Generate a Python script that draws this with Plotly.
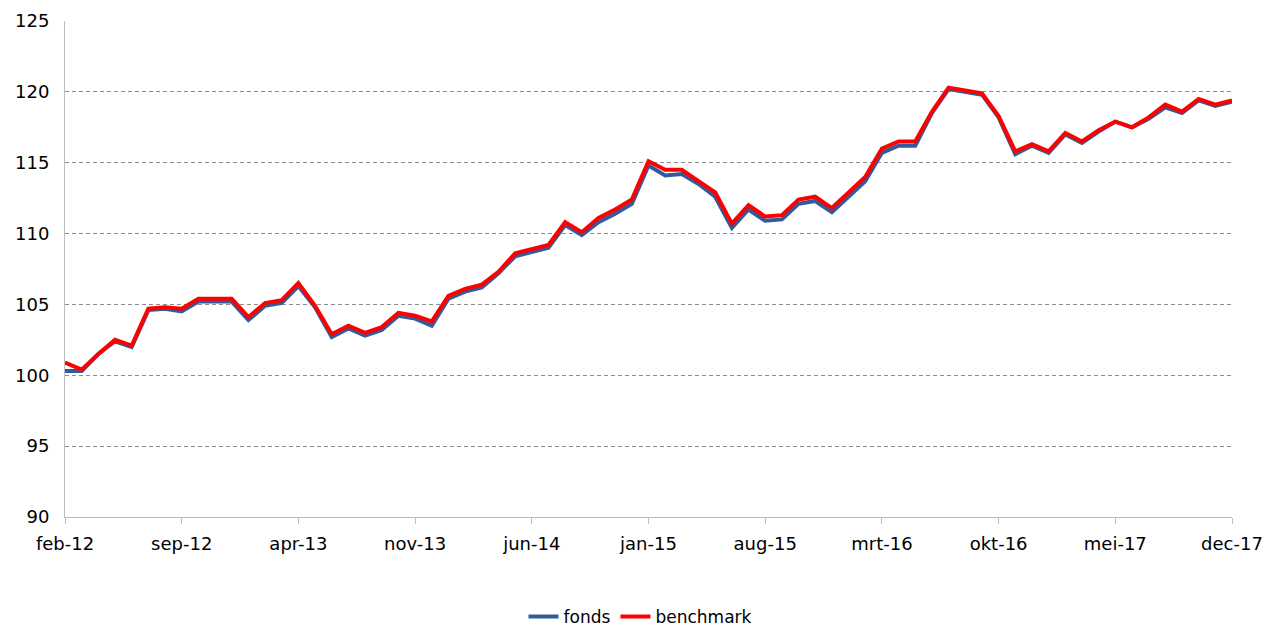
import plotly.graph_objects as go

month_abbr = ["jan", "feb", "mrt", "apr", "mei", "jun", "jul", "aug", "sep", "okt", "nov", "dec"]
months = []
for yr in range(2012, 2018):
    for m in range(12):
        if yr == 2012 and m == 0:
            continue
        months.append(f"{month_abbr[m]}-{str(yr)[2:]}")

fonds = [100.3, 100.3, 101.5, 102.4, 102.0, 104.6, 104.7, 104.5, 105.2, 105.2,
         105.2, 103.9, 104.9, 105.1, 106.3, 104.8, 102.7, 103.3, 102.8, 103.2,
         104.2, 104.0, 103.5, 105.4, 105.9, 106.2, 107.2, 108.4, 108.7, 109.0,
         110.6, 109.9, 110.8, 111.4, 112.1, 114.8, 114.1, 114.2, 113.5, 112.6,
         110.4, 111.7, 110.9, 111.0, 112.1, 112.3, 111.5, 112.6, 113.7, 115.7,
         116.2, 116.2, 118.5, 120.2, 120.0, 119.8, 118.2, 115.6, 116.2, 115.7,
         117.0, 116.4, 117.2, 117.9, 117.5, 118.1, 118.9, 118.5, 119.4, 119.0,
         119.3]
benchmark = [100.9, 100.4, 101.5, 102.5, 102.1, 104.7, 104.8, 104.7, 105.4, 105.4,
             105.4, 104.1, 105.1, 105.3, 106.5, 104.9, 102.9, 103.5, 103.0, 103.4,
             104.4, 104.2, 103.8, 105.6, 106.1, 106.4, 107.3, 108.6, 108.9, 109.2,
             110.8, 110.1, 111.1, 111.7, 112.4, 115.1, 114.5, 114.5, 113.7, 112.9,
             110.7, 112.0, 111.2, 111.3, 112.4, 112.6, 111.8, 112.9, 114.0, 116.0,
             116.5, 116.5, 118.6, 120.3, 120.1, 119.9, 118.3, 115.8, 116.3, 115.8,
             117.1, 116.5, 117.3, 117.9, 117.5, 118.2, 119.1, 118.6, 119.5, 119.1,
             119.4]
tick_labels = months[::7]
y_ticks = [90, 95, 100, 105, 110, 115, 120, 125]

fig = go.Figure()
fig.add_trace(go.Scatter(x=months, y=fonds, mode="lines", name="fonds",
                         line=dict(color="#325A9C", width=4)))
fig.add_trace(go.Scatter(x=months, y=benchmark, mode="lines", name="benchmark",
                         line=dict(color="#FF0000", width=4)))

font_family = "DejaVu Sans, Verdana, sans-serif"
fig.update_layout(
    width=1281, height=630,
    margin=dict(l=65, r=49, t=21, b=113, autoexpand=False),
    paper_bgcolor="white", plot_bgcolor="white",
    font=dict(family=font_family, color="#000000", size=18),
    showlegend=True,
    legend=dict(orientation="h", x=0.5, xanchor="center", xref="container",
                y=1 - 617 / 630, yanchor="middle", yref="container",
                font=dict(size=17, family=font_family), itemwidth=30,
                tracegroupgap=0, itemclick=False),
    xaxis=dict(type="category", categoryorder="array", categoryarray=months,
               range=[0, len(months) - 1], tickmode="array", tickvals=tick_labels,
               ticktext=tick_labels, showgrid=False, showline=True,
               linecolor="#BDBDBD", linewidth=1, ticks="outside", ticklen=6,
               tickcolor="#BDBDBD", tickfont=dict(size=18), zeroline=False,
               ticklabelstandoff=4, automargin=False),
    yaxis=dict(range=[90, 125], tickmode="array", tickvals=y_ticks,
               showgrid=True, gridcolor="#8C8C8C", griddash="4px,3px", gridwidth=1,
               showline=True, linecolor="#BDBDBD", linewidth=1, ticks="",
               tickfont=dict(size=18), zeroline=False, ticklabelstandoff=11,
               automargin=False),
)

fig.write_html("out.html")
